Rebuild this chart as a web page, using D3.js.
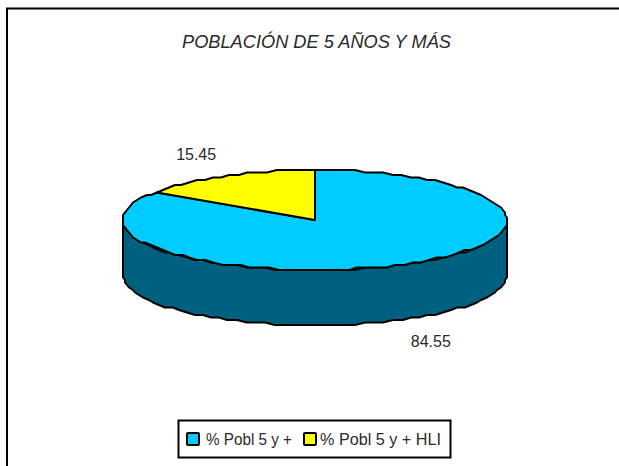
<!DOCTYPE html>
<html>
<head>
<meta charset="utf-8">
<script src="https://cdn.jsdelivr.net/npm/d3@7"></script>
<style>
  html, body { margin: 0; padding: 0; background: #fff; overflow: hidden; }
  text { font-family: "Liberation Sans", Arial, sans-serif; fill: #2a2a2a; }
</style>
</head>
<body>
<div id="chart"></div>
<script>
const categories = ['% Pobl 5 y +', '% Pobl 5 y + HLI'];
const values = [84.55, 15.45];
const valueLabels = ['84.55', '15.45'];
const colors = ['#00ccff', '#ffff00'];
const wallColor = '#006080';
const titleText = 'POBLACIÓN DE 5 AÑOS Y MÁS';

const width = 619, height = 466;
const cx = 315, cy = 220, rx = 192, ry = 50, depth = 55;
// the original outline is slightly stepped, so sample coarsely and snap to a grid
const gridX = 2, gridY = 2.5, stepAngle = Math.PI / 60;

const svg = d3.select('#chart').append('svg').attr('width', width).attr('height', height);

// Frame runs off the right and bottom of the picture
svg.append('rect').attr('x', 7).attr('y', 8.5).attr('width', width + 20).attr('height', height + 20)
  .attr('fill', '#fff').attr('stroke', '#000').attr('stroke-width', 2);

svg.append('text').attr('x', 316.5).attr('y', 48).attr('text-anchor', 'middle')
  .attr('font-size', 18).attr('font-style', 'italic')
  .attr('textLength', 269).attr('lengthAdjust', 'spacingAndGlyphs').text(titleText);

const pie = d3.pie().sort(null).value(d => d);
const slices = pie(values);
const line = d3.line();

// point on the flattened rim, angle clockwise from top
function rim(a, dy) {
  const [x, y] = d3.pointRadial(a, 1);
  return [cx + Math.round(x * rx / gridX) * gridX, cy + Math.round(y * ry / gridY) * gridY + (dy || 0)];
}

function arcPoints(a0, a1, dy) {
  const n = Math.max(2, Math.ceil(Math.abs(a1 - a0) / stepAngle));
  return d3.range(n + 1).map(i => rim(a0 + (a1 - a0) * i / n, dy));
}

// Side wall: front half of the rim, then back along the bottom
const wallTop = arcPoints(Math.PI / 2, Math.PI * 1.5, 0);
const wallBottom = arcPoints(Math.PI * 1.5, Math.PI / 2, depth);
svg.append('path')
  .attr('d', line(wallTop.concat(wallBottom)) + 'Z')
  .attr('fill', wallColor).attr('stroke', '#000').attr('stroke-width', 2).attr('stroke-linejoin', 'round');

// Top face slices
svg.selectAll('path.slice').data(slices).join('path')
  .attr('class', 'slice')
  .attr('d', d => line([[cx, cy]].concat(arcPoints(d.startAngle, d.endAngle, 0))) + 'Z')
  .attr('fill', (d, i) => colors[i])
  .attr('stroke', '#000').attr('stroke-width', 2).attr('stroke-linejoin', 'round');

// Value labels
svg.selectAll('text.value').data(slices).join('text')
  .attr('class', 'value')
  .attr('text-anchor', 'middle')
  .attr('font-size', 16)
  .attr('x', d => cx - 1.5 + Math.sin((d.startAngle + d.endAngle) / 2) * rx * 1.31)
  .attr('y', d => {
    const c = Math.cos((d.startAngle + d.endAngle) / 2);
    return cy - c * ry * 1.5 + (c < 0 ? depth : 0) + 6;
  })
  .text((d, i) => valueLabels[i]);

// Legend
const legend = svg.append('g');
legend.append('rect').attr('x', 178.5).attr('y', 420.5).attr('width', 272).attr('height', 37)
  .attr('fill', '#fff').attr('stroke', '#000').attr('stroke-width', 2);
const legendX = [187, 304];
const legendTextX = [206, 320];
const legendTextLen = [86, 121];
categories.forEach((c, i) => {
  legend.append('rect').attr('x', legendX[i]).attr('y', 433).attr('width', 12).attr('height', 12)
    .attr('rx', 1).attr('fill', colors[i]).attr('stroke', '#000').attr('stroke-width', 2);
  legend.append('text').attr('x', legendTextX[i]).attr('y', 445).attr('font-size', 16)
    .attr('textLength', legendTextLen[i]).attr('lengthAdjust', 'spacingAndGlyphs').text(c);
});
</script>
</body>
</html>
